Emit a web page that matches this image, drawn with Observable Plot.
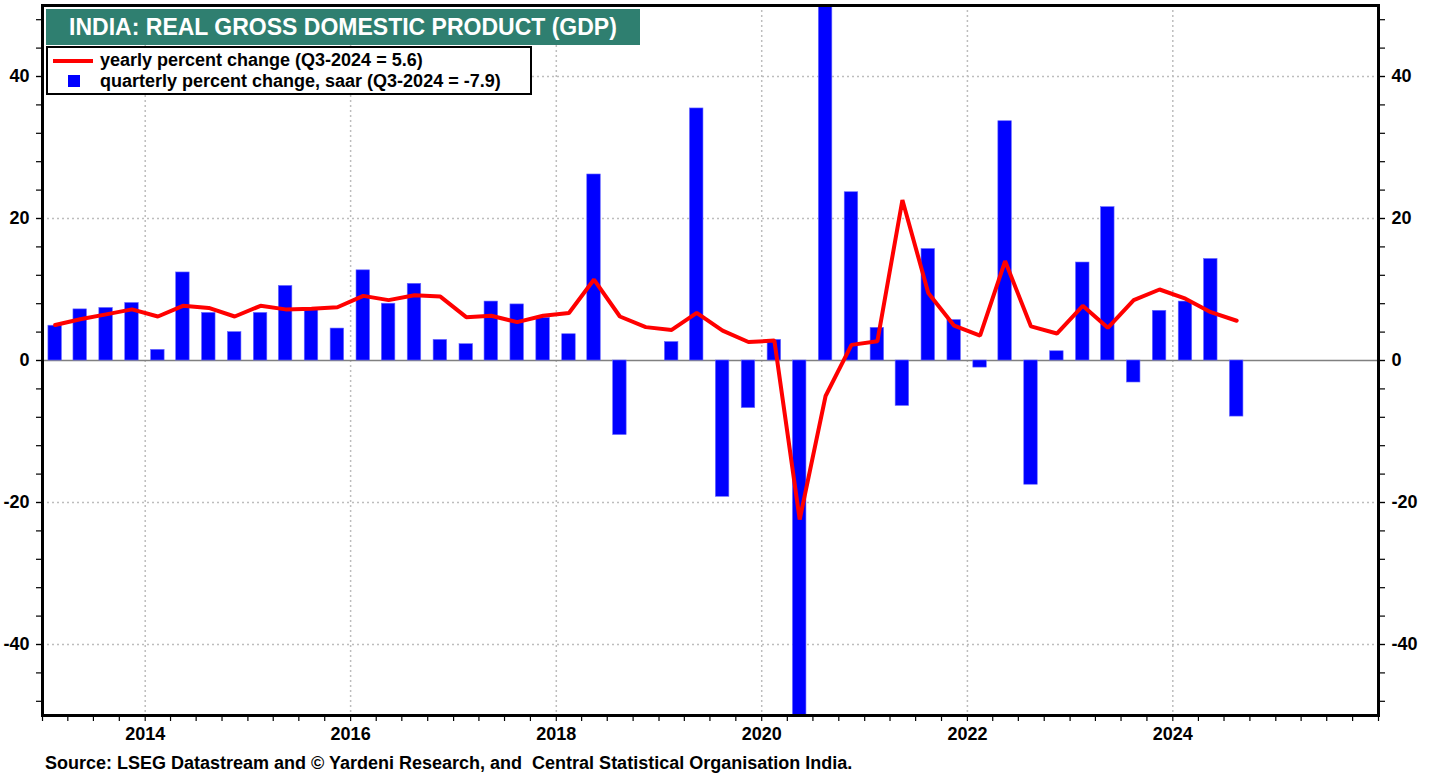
<!DOCTYPE html>
<html>
<head>
<meta charset="utf-8">
<script src="https://cdn.jsdelivr.net/npm/d3@7"></script>
<script src="https://cdn.jsdelivr.net/npm/@observablehq/plot@0.6"></script>
<style>
  html, body { margin: 0; padding: 0; background: #fff; }
  body { width: 1436px; height: 778px; overflow: hidden; font-family: "Liberation Sans", Arial, sans-serif; }
  #wrap { position: relative; width: 1436px; height: 778px; }
  #title { position: absolute; left: 46px; top: 9px; width: 594px; height: 36px; background: #2f7f70;
    color: #fff; font-weight: bold; font-size: 23px; line-height: 36px; text-align: center; }
  #legend { position: absolute; left: 46px; top: 46px; width: 482px; height: 45px; background: #fff;
    border: 2px solid #000; font-weight: bold; font-size: 18px; color: #000; }
  .li { position: absolute; left: 0; height: 21px; line-height: 21px; white-space: nowrap; }
  .li .lbl { position: absolute; left: 52px; top: 0; }
  .swline { position: absolute; left: 5px; top: 9px; width: 40px; height: 4px; background: #ff0000; }
  .swsq { position: absolute; left: 20px; top: 4px; width: 12px; height: 12px; background: #0000ff; }
  #source { position: absolute; left: 45px; top: 753px; font-weight: bold; font-size: 18px; color: #000; white-space: nowrap; }
  #chart { position: absolute; left: 0; top: 0; }
</style>
</head>
<body>
<div id="wrap">
  <div id="chart"></div>
  <div id="title"></div>
  <div id="legend">
    <div class="li" style="top:2px"><div class="swline"></div><span class="lbl" id="l1"></span></div>
    <div class="li" style="top:23px"><div class="swsq"></div><span class="lbl" id="l2"></span></div>
  </div>
  <div id="source"></div>
</div>
<script>
const titleText = "INDIA: REAL GROSS DOMESTIC PRODUCT (GDP)";
const legendYearly = "yearly percent change (Q3-2024 = 5.6)";
const legendQuarterly = "quarterly percent change, saar (Q3-2024 = -7.9)";
const sourceText = "Source: LSEG Datastream and \u00A9 Yardeni Research, and \u00A0Central Statistical Organisation India.";

const quarters = [
  "2013-Q1","2013-Q2","2013-Q3","2013-Q4",
  "2014-Q1","2014-Q2","2014-Q3","2014-Q4",
  "2015-Q1","2015-Q2","2015-Q3","2015-Q4",
  "2016-Q1","2016-Q2","2016-Q3","2016-Q4",
  "2017-Q1","2017-Q2","2017-Q3","2017-Q4",
  "2018-Q1","2018-Q2","2018-Q3","2018-Q4",
  "2019-Q1","2019-Q2","2019-Q3","2019-Q4",
  "2020-Q1","2020-Q2","2020-Q3","2020-Q4",
  "2021-Q1","2021-Q2","2021-Q3","2021-Q4",
  "2022-Q1","2022-Q2","2022-Q3","2022-Q4",
  "2023-Q1","2023-Q2","2023-Q3","2023-Q4",
  "2024-Q1","2024-Q2","2024-Q3"
];
const yearlyPct = [
  5.0, 5.8, 6.5, 7.2,
  6.2, 7.7, 7.4, 6.2,
  7.7, 7.2, 7.3, 7.5,
  9.1, 8.5, 9.2, 9.0,
  6.1, 6.3, 5.4, 6.3,
  6.7, 11.4, 6.2, 4.7,
  4.3, 6.7, 4.2, 2.6,
  2.8, -22.4, -5.0, 2.2,
  2.7, 22.6, 9.5, 4.9,
  3.5, 14.0, 4.8, 3.8,
  7.7, 4.6, 8.5, 10.0,
  8.7, 6.8, 5.6
];
const quarterlySaar = [
  4.9, 7.2, 7.4, 8.1,
  1.5, 12.4, 6.7, 4.0,
  6.7, 10.5, 7.1, 4.5,
  12.7, 8.0, 10.8, 2.9,
  2.3, 8.3, 7.9, 6.0,
  3.7, 26.2, -10.5, 0.0,
  2.6, 35.5, -19.2, -6.7,
  2.9, -68.0, 85.0, 23.7,
  4.6, -6.4, 15.7, 5.7,
  -1.0, 33.7, -17.5, 1.3,
  13.8, 21.6, -3.1, 7.0,
  8.3, 14.3, -7.9
];
const yLabelTicks = [-40, -20, 0, 20, 40];
const yGridTicks = [-40, -20, 20, 40];
const xLabelYears = [2014, 2016, 2018, 2020, 2022, 2024];
const xDomainYears = [2013, 2026];

document.getElementById("title").textContent = titleText;
document.getElementById("l1").textContent = legendYearly;
document.getElementById("l2").textContent = legendQuarterly;
document.getElementById("source").textContent = sourceText;

function qMid(q) {
  const y = +q.slice(0, 4), n = +q.slice(-1);
  return new Date(Date.UTC(y, (n - 1) * 3 + 1, 15));
}
const data = quarters.map((q, i) => {
  const mid = qMid(q);
  return { q, mid, x1: d3.utcDay.offset(mid, -24), x2: d3.utcDay.offset(mid, 24),
           yearly: yearlyPct[i], quarterly: quarterlySaar[i] };
});
const yr = (y) => new Date(Date.UTC(y, 0, 1));
const xDomain = xDomainYears.map(yr);
const quarterTicks = d3.utcMonth.every(3).range(xDomain[0], d3.utcDay.offset(xDomain[1], 1));
const labelDates = xLabelYears.map(yr);
const minorY = d3.range(-48, 49, 4);

const chart = Plot.plot({
  width: 1436,
  height: 748,
  marginLeft: 42,
  marginRight: 58,
  marginTop: 5,
  marginBottom: 33,
  style: { fontFamily: "'Liberation Sans', Arial, sans-serif", fontSize: "18px", fontWeight: "bold", color: "#000", background: "transparent" },
  x: { type: "utc", domain: xDomain },
  y: { domain: [-50, 50] },
  marks: [
    Plot.gridX(labelDates, { stroke: "#bdbdbd", strokeOpacity: 1, strokeDasharray: "2,3", strokeWidth: 1.5 }),
    Plot.gridY(yGridTicks, { stroke: "#bdbdbd", strokeOpacity: 1, strokeDasharray: "2,3", strokeWidth: 1.5 }),
    Plot.ruleY([0], { stroke: "#808080", strokeWidth: 1.5 }),
    Plot.rect(data, { x1: "x1", x2: "x2", y1: 0, y2: "quarterly", fill: "#0000ff", stroke: "#6a6aff", strokeWidth: 0.6, clip: true }),
    Plot.line(data, { x: "mid", y: "yearly", stroke: "#ff0000", strokeWidth: 4, strokeLinejoin: "miter", clip: true }),
    Plot.axisY(minorY, { anchor: "left", tickSize: 6, tickFormat: () => "", label: null, strokeWidth: 1.2 }),
    Plot.axisY(minorY, { anchor: "right", tickSize: 6, tickFormat: () => "", label: null, strokeWidth: 1.2 }),
    Plot.axisY(yLabelTicks, { anchor: "left", tickSize: 6, tickPadding: 7, tickFormat: (d) => String(d), label: null, fontSize: 18, fontWeight: "bold", strokeWidth: 1.2 }),
    Plot.axisY(yLabelTicks, { anchor: "right", tickSize: 6, tickPadding: 7, tickFormat: (d) => String(d), label: null, fontSize: 18, fontWeight: "bold", strokeWidth: 1.2 }),
    Plot.axisX(quarterTicks, { anchor: "bottom", tickSize: 6, tickFormat: () => "", label: null, strokeWidth: 1.2 }),
    Plot.axisX(labelDates, { anchor: "bottom", tickSize: 0, tickPadding: 12, tickFormat: d3.utcFormat("%Y"), label: null, fontSize: 18, fontWeight: "bold" }),
    Plot.frame({ stroke: "#000", strokeWidth: 3 })
  ]
});
document.getElementById("chart").appendChild(chart);
</script>
</body>
</html>
